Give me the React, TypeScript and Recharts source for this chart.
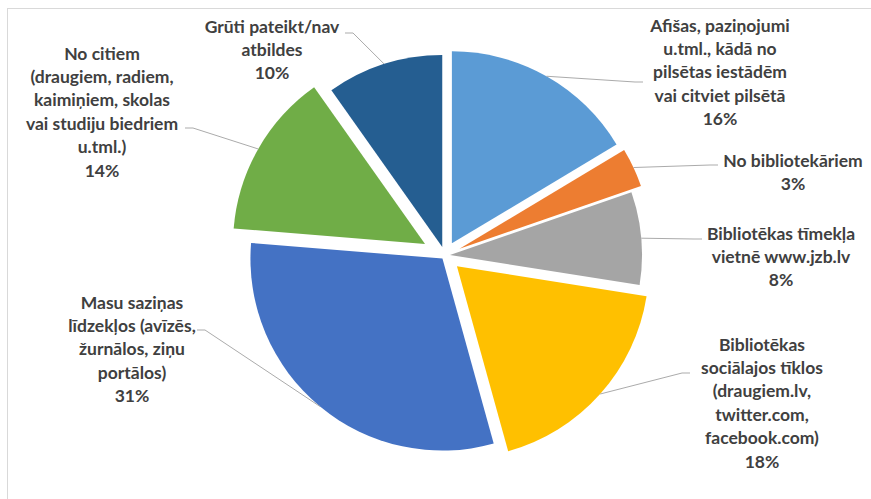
import React from 'react'
import { PieChart, Pie, Cell, Sector } from 'recharts'

// slice names, line breaks as in the data labels
const categories = [
  'Afišas, paziņojumi\nu.tml., kādā no\npilsētas iestādēm\nvai citviet pilsētā',
  'No bibliotekāriem',
  'Bibliotēkas tīmekļa\nvietnē www.jzb.lv',
  'Bibliotēkas\nsociālajos tīklos\n(draugiem.lv,\ntwitter.com,\nfacebook.com)',
  'Masu saziņas\nlīdzekļos (avīzēs,\nžurnālos, ziņu\nportālos)',
  'No citiem\n(draugiem, radiem,\nkaimiņiem, skolas\nvai studiju biedriem\nu.tml.)',
  'Grūti pateikt/nav\natbildes',
]
const shares = [16.4, 3.3, 7.8, 18.2, 30.6, 13.9, 9.8]

const colors = ['#5B9BD5', '#ED7D31', '#A5A5A5', '#FFC000', '#4472C4', '#70AD47', '#255E91']
// how far each slice is pulled out of the pie (px)
const explode = [14, 16, 5, 16, 4, 23, 9]
// label block: centre x, first line y, and where the leader line ends
const labelBox = [
  { x: 720, y: 25, lx: 643, ly: 82 },
  { x: 793, y: 160, lx: 718, ly: 165 },
  { x: 781, y: 233, lx: 702, ly: 239 },
  { x: 762, y: 344, lx: 690, ly: 373 },
  { x: 132, y: 302, lx: 197, ly: 330 },
  { x: 102, y: 53, lx: 185, ly: 128 },
  { x: 272, y: 26, lx: 345, ly: 33 },
]

const data = categories.map((name, i) => ({ name, value: shares[i] }))

const RAD = Math.PI / 180
const LINE_H = 23.4

function polar(cx: number, cy: number, r: number, angle: number) {
  return { x: cx + r * Math.cos(-angle * RAD), y: cy + r * Math.sin(-angle * RAD) }
}

function ExplodedSlice(props: any) {
  const i = categories.indexOf(props.payload?.name ?? props.name)
  const d = explode[i] ?? 0
  const off = polar(0, 0, d, props.midAngle)
  return (
    <Sector
      cx={props.cx + off.x}
      cy={props.cy + off.y}
      innerRadius={props.innerRadius}
      outerRadius={props.outerRadius}
      startAngle={props.startAngle}
      endAngle={props.endAngle}
      fill={props.fill}
      stroke="none"
    />
  )
}

function SliceLabel(props: any) {
  const i = categories.indexOf(props.payload?.name ?? props.name)
  const box = labelBox[i]
  if (!box) return null
  const p = polar(props.cx, props.cy, props.outerRadius + explode[i], props.midAngle)
  const side = box.lx > p.x ? -1 : 1
  const lines = [...categories[i].split('\n'), `${Math.round(props.percent * 100)}%`]
  return (
    <g>
      <polyline
        points={`${p.x},${p.y} ${box.lx + side * 8},${box.ly} ${box.lx},${box.ly}`}
        fill="none"
        stroke="#ABABAB"
        strokeWidth={1}
      />
      {lines.map((t, k) => (
        <text
          key={k}
          x={box.x}
          y={box.y + k * LINE_H}
          textAnchor="middle"
          dominantBaseline="central"
          fill="#404040"
          fontSize={17.5}
          fontWeight="bold"
          fontFamily="Lato, 'Noto Sans', sans-serif"
        >
          {t}
        </text>
      ))}
    </g>
  )
}

export default function App() {
  return (
    <div style={{ position: 'relative', width: 871, height: 499, overflow: 'hidden', background: '#fff' }}>
      <style>{'body{margin:0;overflow:hidden}'}</style>
      <div
        style={{
          position: 'absolute',
          left: 7,
          top: 8,
          width: 900,
          height: 520,
          border: '1px solid #D9D9D9',
        }}
      />
      <div style={{ position: 'absolute', left: 0, top: 0 }}>
        <PieChart width={871} height={499} margin={{ top: 0, right: 0, bottom: 0, left: 0 }}>
          <Pie
            data={data}
            dataKey="value"
            nameKey="name"
            cx={445}
            cy={255.5}
            outerRadius={192}
            startAngle={90}
            endAngle={-270}
            stroke="none"
            shape={ExplodedSlice}
            label={SliceLabel}
            labelLine={false}
            isAnimationActive={false}
          >
            {data.map((d, i) => (
              <Cell key={d.name} fill={colors[i]} />
            ))}
          </Pie>
        </PieChart>
      </div>
    </div>
  )
}
